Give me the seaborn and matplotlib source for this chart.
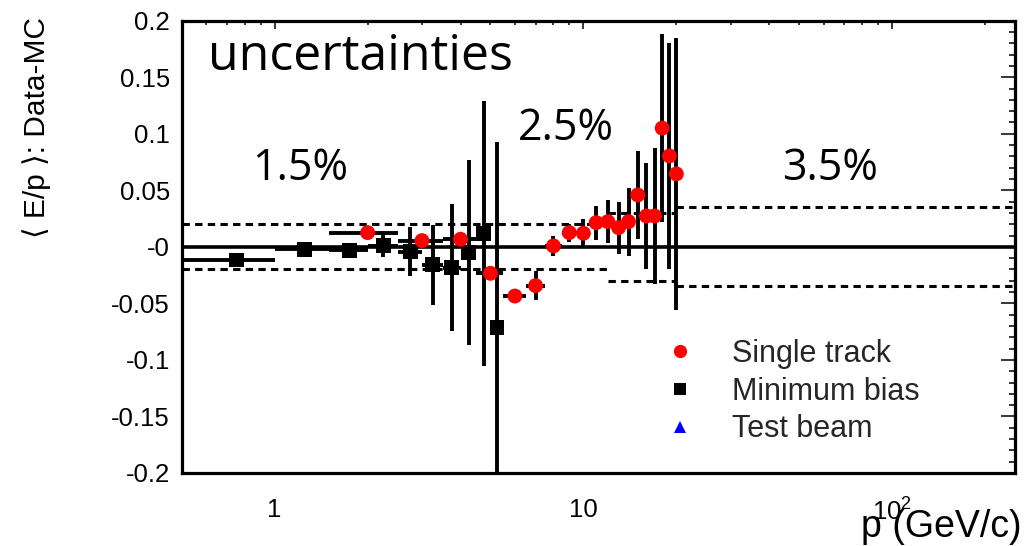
import numpy as np
import pandas as pd
import matplotlib
matplotlib.use("Agg")
import matplotlib.pyplot as plt
import seaborn as sns
from matplotlib.lines import Line2D
from matplotlib.ticker import FixedLocator, FixedFormatter, NullFormatter, LogLocator, MultipleLocator

# Single-track sample: <E/p> difference between data and MC per momentum bin
single_p = [2, 3, 4, 5, 6, 7, 8, 9, 10, 11, 12, 13, 14, 15, 16, 17, 18, 19, 20]
single_val = [0.0126, 0.0055, 0.0067, -0.0234, -0.0435, -0.0343, 0.0008, 0.0126, 0.0120,
              0.0214, 0.0223, 0.0170, 0.0223, 0.0459, 0.0273, 0.0273, 0.1050, 0.0804, 0.0645]
single_err = [0.003, 0.003, 0.003, 0.003, 0.004, 0.013, 0.009, 0.008, 0.013,
              0.015, 0.019, 0.023, 0.030, 0.039, 0.047, 0.060, 0.083, 0.100, 0.120]
single_perr = [0.5] * len(single_p)

# Minimum-bias sample
minbias_p = [0.75, 1.25, 1.75, 2.25, 2.75, 3.25, 3.75, 4.25, 4.75, 5.25]
minbias_val = [-0.0116, -0.0020, -0.0030, 0.0010, -0.0042, -0.0160, -0.0184, -0.0051, 0.0120, -0.0712]
minbias_err = [0.0, 0.0, 0.0, 0.010, 0.022, 0.035, 0.056, 0.082, 0.117, 0.164]
minbias_perr = [0.25] * len(minbias_p)

# Test-beam sample (no points inside the plotted range)
testbeam_p = []
testbeam_val = []

# Systematic uncertainty bands
band_edges = [0.5, 12, 20, 250]
band_upper = [0.02, 0.03, 0.035]
band_lower = [-0.02, -0.03, -0.035]
band_labels = ["1.5%", "2.5%", "3.5%"]

yticks = [-0.2, -0.15, -0.1, -0.05, 0.0, 0.05, 0.1, 0.15, 0.2]
ytick_labels = ["-0.2", "-0.15", "-0.1", "-0.05", "-0", "0.05", "0.1", "0.15", "0.2"]
xticks = [1, 10, 100]
xtick_labels = ["1", "10", r"$\mathregular{10^{2}}$"]

sns.set_theme(style="white")
plt.rcParams["font.family"] = ["Liberation Sans", "DejaVu Sans"]
plt.rcParams["lines.scale_dashes"] = False
plt.rcParams["mathtext.fontset"] = "custom"
plt.rcParams["mathtext.rm"] = "Liberation Sans"

W, H = 1032, 546
fig = plt.figure(figsize=(W / 100, H / 100), dpi=100)
x0, x1, y0, y1 = 181.7, 1015, 20.7, 473
ax = fig.add_axes([x0 / W, 1 - y1 / H, (x1 - x0) / W, (y1 - y0) / H])

ax.set_xscale("log")
ax.set_xlim(0.5, 250)
ax.set_ylim(-0.2, 0.2)

# zero line
ax.axhline(0, color="black", lw=2.6, zorder=1)

# uncertainty bands
dash = (0, (5.3, 3.8))
for lo, hi, up, dn in zip(band_edges[:-1], band_edges[1:], band_upper, band_lower):
    ax.hlines([up, dn], lo, hi, colors="black", linewidth=2.2, linestyles=[dash], zorder=1)

# error bars
ax.errorbar(minbias_p, minbias_val, xerr=minbias_perr, yerr=minbias_err, fmt="none",
            ecolor="black", elinewidth=2.8, capsize=0, zorder=2)
ax.errorbar(single_p, single_val, xerr=single_perr, yerr=single_err, fmt="none",
            ecolor="black", elinewidth=2.8, capsize=0, zorder=2)

# markers
df = pd.concat([
    pd.DataFrame({"p": minbias_p, "val": minbias_val, "sample": "Minimum bias"}),
    pd.DataFrame({"p": single_p, "val": single_val, "sample": "Single track"}),
], ignore_index=True)
sns.scatterplot(data=df, x="p", y="val", hue="sample", style="sample",
                palette={"Single track": "#ff0000", "Minimum bias": "black"},
                markers={"Single track": "o", "Minimum bias": "s"},
                s=115, linewidth=0, legend=False, ax=ax, zorder=3)
ax.plot(testbeam_p, testbeam_val, ls="none", marker="^", color="blue")

# axes styling
for sp in ax.spines.values():
    sp.set_visible(True)
    sp.set_linewidth(2.3)
    sp.set_color("black")

ax.xaxis.set_major_locator(FixedLocator(xticks))
ax.xaxis.set_major_formatter(FixedFormatter(xtick_labels))
ax.xaxis.set_minor_locator(LogLocator(base=10, subs=np.arange(2, 10)))
ax.xaxis.set_minor_formatter(NullFormatter())
ax.yaxis.set_major_locator(FixedLocator(yticks))
ax.yaxis.set_major_formatter(FixedFormatter(ytick_labels))
ax.yaxis.set_minor_locator(MultipleLocator(0.01))

ax.tick_params(which="both", direction="in", top=True, right=True, colors="black", width=1.1)
ax.tick_params(axis="x", which="major", length=6, pad=18, labelsize=18.5)
ax.tick_params(axis="x", which="minor", length=3)
ax.tick_params(axis="y", which="major", length=10, pad=8.5, labelsize=18.5)
ax.tick_params(axis="y", which="minor", length=4.5)
ax.set_xlabel("")
ax.set_ylabel("")
ax.grid(False)

fig.text(37 / W, 1 - 17 / H, "\u27e8 E/p \u27e9: Data-MC", rotation=90, ha="center", va="top",
         fontsize=21.5, color="black")
fig.text(1022 / W, 1 - 537 / H, "p (GeV/c)", ha="right", va="baseline", fontsize=27, color="black")

# annotations
def ax_frac(px, py):
    return (px - x0) / (x1 - x0), (y1 - py) / (y1 - y0)

ax.text(*ax_frac(208, 70), "uncertainties", transform=ax.transAxes, ha="left", va="baseline",
        fontsize=36, family="Open Sans", color="black")
label_pos = [(252, 180), (518, 140), (782, 180)]
for (px, py), lab in zip(label_pos, band_labels):
    ax.text(*ax_frac(px, py), lab, transform=ax.transAxes, ha="left", va="baseline",
            fontsize=31, family="Open Sans", color="black")

# legend
handles = [
    Line2D([], [], ls="none", marker="o", color="#ff0000", ms=9.5, mew=0),
    Line2D([], [], ls="none", marker="s", color="black", ms=8, mew=0),
    Line2D([], [], ls="none", marker="^", color="blue", ms=8, mew=0),
]
leg = ax.legend(handles, ["Single track", "Minimum bias", "Test beam"], frameon=False,
                loc="upper left", bbox_to_anchor=(665 / W, 1 - 339 / H),
                bbox_transform=fig.transFigure, borderpad=0, borderaxespad=0,
                handlelength=1.0, handletextpad=1.2, labelspacing=0.25, fontsize=22)

fig.savefig("out.png", dpi=100, facecolor="white")
